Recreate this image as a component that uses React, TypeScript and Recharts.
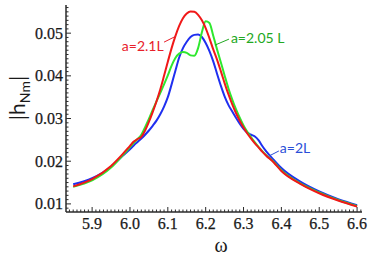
import React from "react";
import { LineChart, Line, XAxis, YAxis, ReferenceLine, ReferenceDot } from "recharts";

// frequency grid (omega)
const omega = [
  5.85, 5.9, 5.95, 5.98, 6.0, 6.01, 6.02, 6.03, 6.04, 6.05, 6.06, 6.07, 6.08, 6.09, 6.1,
  6.11, 6.12, 6.13, 6.14, 6.15, 6.16, 6.17, 6.18, 6.19, 6.2, 6.21, 6.22, 6.23, 6.24, 6.25,
  6.26, 6.27, 6.28, 6.29, 6.3, 6.31, 6.32, 6.33, 6.34, 6.35, 6.36, 6.38, 6.4, 6.45, 6.5,
  6.55, 6.6,
];

// |h_Nm| for a = 2.1L
const redA21 = [
  0.0141, 0.0158, 0.0189, 0.0216, 0.0236, 0.0246, 0.0252, 0.0257, 0.0272, 0.0292, 0.0315,
  0.034, 0.0368, 0.04, 0.0433, 0.0465, 0.0493, 0.0517, 0.0535, 0.0546, 0.0551, 0.055, 0.0543,
  0.053, 0.0512, 0.0488, 0.0462, 0.0438, 0.0411, 0.0383, 0.0357, 0.0334, 0.0313, 0.0295,
  0.0279, 0.0265, 0.0253, 0.0242, 0.0232, 0.0222, 0.0213, 0.0197, 0.0177, 0.0147, 0.0125,
  0.0108, 0.0094,
];

// |h_Nm| for a = 2.05L
const greenA205 = [
  0.014, 0.0155, 0.0185, 0.0213, 0.0233, 0.0243, 0.0252, 0.0262, 0.028, 0.0299, 0.032, 0.034,
  0.036, 0.038, 0.0401, 0.0424, 0.0442, 0.0452, 0.0456, 0.0454, 0.0448, 0.0447, 0.0465,
  0.0502, 0.0528, 0.0524, 0.0494, 0.0462, 0.0432, 0.0401, 0.0371, 0.0345, 0.0322, 0.0302,
  0.0284, 0.0269, 0.0256, 0.0244, 0.0233, 0.0223, 0.0214, 0.0198, 0.0179, 0.0148, 0.0127,
  0.0109, 0.0095,
];

// |h_Nm| for a = 2L
const blueA2 = [
  0.0146, 0.016, 0.0187, 0.0212, 0.0228, 0.0237, 0.0245, 0.0253, 0.0262, 0.0272, 0.0283,
  0.0295, 0.031, 0.0328, 0.035, 0.038, 0.0412, 0.0443, 0.0465, 0.048, 0.0491, 0.0496, 0.0497,
  0.0491, 0.0477, 0.0458, 0.0434, 0.0405, 0.0377, 0.0352, 0.0332, 0.0317, 0.0302, 0.0288,
  0.0276, 0.0267, 0.0262, 0.0258, 0.0249, 0.0235, 0.0223, 0.0203, 0.0184, 0.0152, 0.0129,
  0.0111, 0.0097,
];

const xMajor = [5.9, 6.0, 6.1, 6.2, 6.3, 6.4, 6.5, 6.6];
const yMajor = [0.01, 0.02, 0.03, 0.04, 0.05];

const X_DOMAIN: [number, number] = [5.831, 6.613];
const Y_DOMAIN: [number, number] = [0.0081, 0.0566];

// minor ticks: omega every 0.01, |h| every 0.001
const xTicks: number[] = [];
for (let i = 584; i <= 661; i++) xTicks.push(i / 100);
const yTicks: number[] = [];
for (let i = 9; i <= 56; i++) yTicks.push(i / 1000);

const rows = omega.map((w, i) => ({ w, red: redA21[i], green: greenA205[i], blue: blueA2[i] }));

const FRAME = "#2a2a2a";
const SERIF = "Liberation Serif, Times New Roman, serif";
const SANS = "Lato, sans-serif";

const isMajor = (v: number, list: number[]) => list.some((m) => Math.abs(m - v) < 1e-6);

function XTick(props: any) {
  const { x, y, payload, side } = props;
  const major = isMajor(payload.value, xMajor);
  const len = major ? 5 : 2.5;
  const dir = side === "bottom" ? -1 : 1;
  return (
    <g>
      <line x1={x} x2={x} y1={y} y2={y + dir * len} stroke={FRAME} strokeWidth={1} />
      {major && side === "bottom" && (
        <text x={x} y={y + 17} textAnchor="middle" fontFamily={SERIF} fontSize={16} fill="#1a1a1a" stroke="#1a1a1a" strokeWidth={0.25}>
          {payload.value.toFixed(1)}
        </text>
      )}
    </g>
  );
}

function YTick(props: any) {
  const { x, y, payload, side } = props;
  const major = isMajor(payload.value, yMajor);
  const len = major ? 5 : 2.5;
  const dir = side === "left" ? 1 : -1;
  return (
    <g>
      <line x1={x} x2={x + dir * len} y1={y} y2={y} stroke={FRAME} strokeWidth={1} />
      {major && side === "left" && (
        <text x={x - 3} y={y} dy="0.35em" textAnchor="end" fontFamily={SERIF} fontSize={16} fill="#1a1a1a" stroke="#1a1a1a" strokeWidth={0.25}>
          {payload.value.toFixed(2)}
        </text>
      )}
    </g>
  );
}

const annotations = [
  { text: "a=2.1L", color: "#e8202a", tx: 6.089, ty: 0.0458, anchor: "end", from: [6.09, 0.0479], to: [6.1216, 0.0493] },
  { text: "a=2.05 L", color: "#22a822", tx: 6.2667, ty: 0.0477, anchor: "start", from: [6.2245, 0.0472], to: [6.2615, 0.0486] },
  { text: "a=2L", color: "#2a4fd8", tx: 6.396, ty: 0.0219, anchor: "start", from: [6.367, 0.0212], to: [6.3934, 0.0224] },
];

export default function App() {
  return (
    <div style={{ position: "absolute", left: 0, top: 0, background: "#fff" }}>
      <LineChart width={374} height={258} data={rows} margin={{ top: 5, right: 12, bottom: 0, left: 0 }}>
        <XAxis
          xAxisId="b"
          dataKey="w"
          type="number"
          domain={X_DOMAIN}
          ticks={xTicks}
          interval={0}
          allowDataOverflow
          height={46}
          tickSize={0}
          tickMargin={0}
          tickLine={false}
          axisLine={{ stroke: FRAME, strokeWidth: 1.5 }}
          tick={<XTick side="bottom" />}
          label={{
            content: (p: any) => (
              <text x={p.viewBox.x + p.viewBox.width / 2 + 7} y={252} textAnchor="middle" fontFamily={SERIF} fontSize={20} fill="#1a1a1a">
                ω
              </text>
            ),
          }}
        />
        <XAxis
          xAxisId="t"
          orientation="top"
          dataKey="w"
          type="number"
          domain={X_DOMAIN}
          ticks={xTicks}
          interval={0}
          allowDataOverflow
          height={0}
          tickSize={0}
          tickMargin={0}
          tickLine={false}
          axisLine={{ stroke: FRAME, strokeWidth: 1.5 }}
          tick={<XTick side="top" />}
        />
        <YAxis
          yAxisId="l"
          type="number"
          domain={Y_DOMAIN}
          ticks={yTicks}
          interval={0}
          allowDataOverflow
          width={66}
          tickSize={0}
          tickMargin={0}
          tickLine={false}
          axisLine={{ stroke: FRAME, strokeWidth: 1.5 }}
          tick={<YTick side="left" />}
          label={{
            content: () => (
              <text transform="translate(25,98) rotate(-90)" textAnchor="middle" fontFamily={SANS} fontSize={21} fill="#1a1a1a">
                |h
                <tspan fontSize={14} dy={5}>Nm</tspan>
                <tspan dy={-5}>|</tspan>
              </text>
            ),
          }}
        />
        <YAxis
          yAxisId="r"
          orientation="right"
          type="number"
          domain={Y_DOMAIN}
          ticks={yTicks}
          interval={0}
          allowDataOverflow
          width={0}
          tickSize={0}
          tickMargin={0}
          tickLine={false}
          axisLine={{ stroke: FRAME, strokeWidth: 1.5 }}
          tick={<YTick side="right" />}
        />
        <Line xAxisId="b" yAxisId="l" dataKey="blue" type="monotone" stroke="#1f2ff0" strokeWidth={2} dot={false} isAnimationActive={false} />
        <Line xAxisId="b" yAxisId="l" dataKey="green" type="monotone" stroke="#2ee82e" strokeWidth={2} dot={false} isAnimationActive={false} />
        <Line xAxisId="b" yAxisId="l" dataKey="red" type="monotone" stroke="#f01818" strokeWidth={2} dot={false} isAnimationActive={false} />
        {annotations.map((a) => (
          <ReferenceLine
            key={a.text + "-l"}
            xAxisId="b"
            yAxisId="l"
            segment={[{ x: a.from[0], y: a.from[1] }, { x: a.to[0], y: a.to[1] }]}
            stroke={a.color}
            strokeWidth={1}
          />
        ))}
        {annotations.map((a) => (
          <ReferenceDot
            key={a.text + "-t"}
            xAxisId="b"
            yAxisId="l"
            x={a.tx}
            y={a.ty}
            r={0}
            shape={(p: any) => (
              <text x={p.cx} y={p.cy} textAnchor={a.anchor as any} fontFamily={SANS} fontSize={14} fill={a.color}>
                {a.text}
              </text>
            )}
          />
        ))}
      </LineChart>
    </div>
  );
}
